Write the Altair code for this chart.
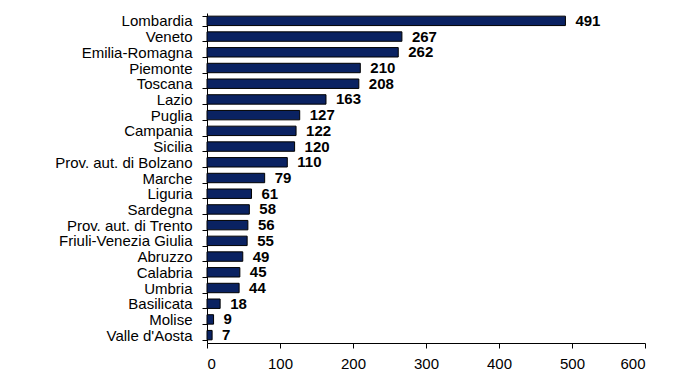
import altair as alt
import pandas as pd

regions = ["Lombardia", "Veneto", "Emilia-Romagna", "Piemonte", "Toscana", "Lazio",
           "Puglia", "Campania", "Sicilia", "Prov. aut. di Bolzano", "Marche", "Liguria",
           "Sardegna", "Prov. aut. di Trento", "Friuli-Venezia Giulia", "Abruzzo",
           "Calabria", "Umbria", "Basilicata", "Molise", "Valle d'Aosta"]
values = [491, 267, 262, 210, 208, 163, 127, 122, 120, 110, 79, 61, 58, 56, 55, 49,
          45, 44, 18, 9, 7]
x_ticks = [0, 100, 200, 300, 400, 500, 600]

df = pd.DataFrame({"region": regions, "value": values})

font = "Liberation Sans"

y_enc = alt.Y("region:N", sort=regions, title=None,
              scale=alt.Scale(paddingInner=0.4, paddingOuter=0.2),
              axis=alt.Axis(labelFont=font, labelFontSize=15, labelColor="black",
                            labelPadding=10, tickBand="extent", tickColor="black",
                            tickSize=5, domainColor="black", labelLimit=300))
x_enc = alt.X("value:Q", title=None,
              scale=alt.Scale(domain=[0, 600], nice=False),
              axis=alt.Axis(values=x_ticks, grid=False, labelFont=font, labelFontSize=15,
                            labelColor="black", tickColor="black", tickSize=5,
                            domainColor="black", labelPadding=8))

bars = alt.Chart(df).mark_bar(color="#0a2262", stroke="black", strokeWidth=1).encode(
    x=x_enc, y=y_enc)
labels = alt.Chart(df).mark_text(align="left", baseline="middle", dx=10, font=font,
                                 fontSize=15, fontWeight="bold", color="black").encode(
    x=alt.X("value:Q"), y=alt.Y("region:N", sort=regions), text="value:Q")

chart = (bars + labels).properties(
    width=438, height=330,
    autosize=alt.AutoSizeParams(type="none"),
    padding={"left": 199, "top": 5, "right": 30, "bottom": 30},
).configure_view(stroke=None)

chart.save("out.html", embed_options={"renderer": "svg", "actions": False})
